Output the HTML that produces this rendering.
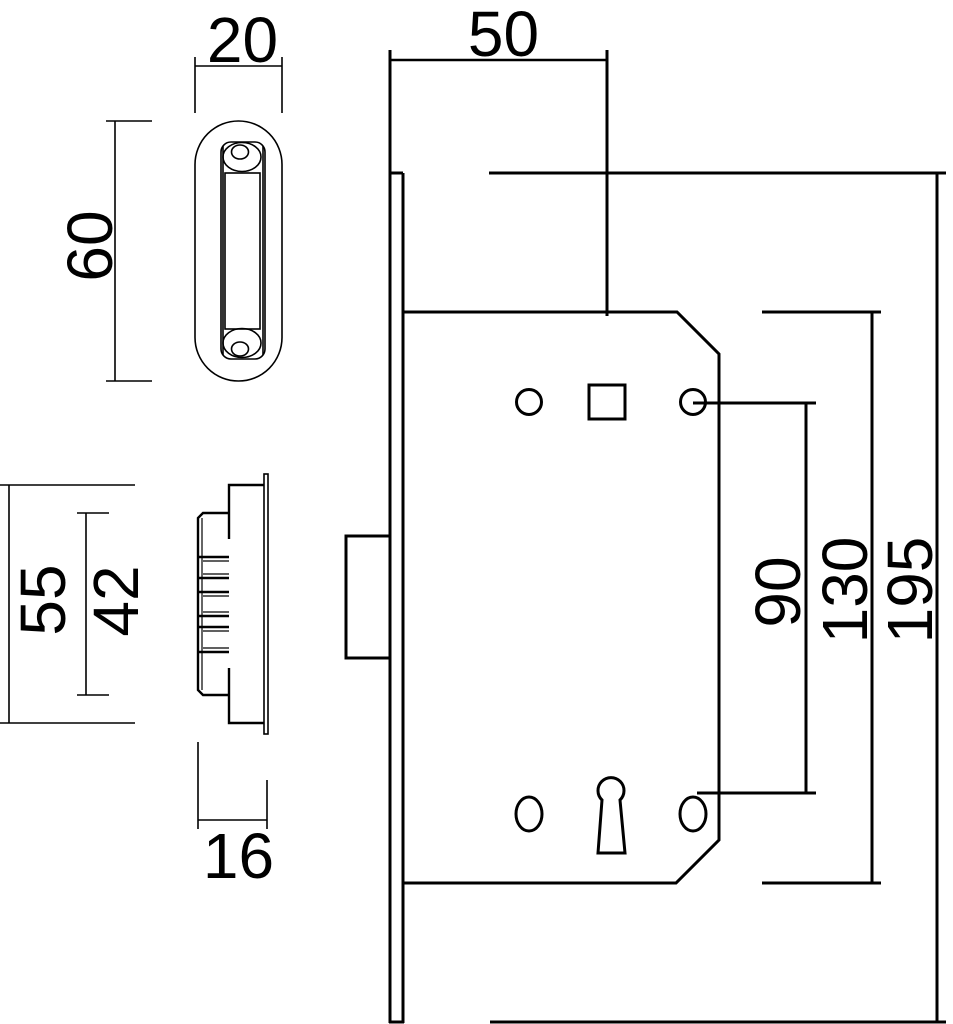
<!DOCTYPE html>
<html>
<head>
<meta charset="utf-8">
<style>
html,body{margin:0;padding:0;background:#fff;}
svg{display:block;}
text{font-family:"Liberation Sans",Arial,sans-serif;font-size:64px;fill:#000;}
</style>
</head>
<body>
<svg width="953" height="1024" viewBox="0 0 953 1024" xmlns="http://www.w3.org/2000/svg">
<rect width="953" height="1024" fill="#fff"/>
<g fill="none" stroke="#000" stroke-linecap="butt" stroke-linejoin="miter">

<!-- ===== Handle (top-left) ===== -->
<g stroke-width="1.6">
  <line x1="195" y1="57" x2="195" y2="113"/>
  <line x1="282" y1="57" x2="282" y2="113"/>
  <line x1="195" y1="66" x2="282" y2="66"/>
  <rect x="195" y="121" width="87" height="260" rx="43.5" ry="43.5"/>
  <rect x="221" y="142" width="44" height="217" rx="10" ry="10"/>
  <rect x="225" y="173" width="35" height="156"/>
  <line x1="223" y1="146" x2="223" y2="355"/>
  <line x1="263" y1="146" x2="263" y2="355"/>
  <ellipse cx="242" cy="157" rx="19" ry="14.5"/>
  <ellipse cx="240" cy="152" rx="8.5" ry="7"/>
  <ellipse cx="242" cy="343" rx="19" ry="14.5"/>
  <ellipse cx="240" cy="349" rx="8.5" ry="7"/>
  <!-- 60 dim -->
  <line x1="115" y1="121" x2="115" y2="381"/>
  <line x1="106" y1="121" x2="152" y2="121"/>
  <line x1="106" y1="381" x2="152" y2="381"/>
  <!-- 55 dim -->
  <line x1="9" y1="485" x2="9" y2="723"/>
  <line x1="0" y1="485" x2="135" y2="485"/>
  <line x1="0" y1="723" x2="135" y2="723"/>
  <!-- 42 dim -->
  <line x1="86" y1="513" x2="86" y2="695"/>
  <line x1="77" y1="513" x2="109" y2="513"/>
  <line x1="77" y1="695" x2="109" y2="695"/>
  <!-- 16 dim -->
  <line x1="198" y1="742" x2="198" y2="829"/>
  <line x1="267" y1="780" x2="267" y2="829"/>
  <line x1="198" y1="820" x2="267" y2="820"/>
</g>

<!-- ===== Strike plate ===== -->
<g stroke-width="2.4">
  <rect x="264" y="474" width="4" height="260" stroke-width="1.6"/>
  <polyline points="264,485 229,485 229,539"/>
  <polyline points="264,723 229,723 229,668"/>
  <polyline points="229,513 203,513 198,518 198,690 203,695 229,695"/>
  <line x1="202" y1="518" x2="202" y2="690" stroke-width="1.2"/>
  <!-- teeth -->
  <line x1="198" y1="557" x2="229" y2="557"/>
  <line x1="198" y1="578" x2="229" y2="578"/>
  <line x1="203" y1="561" x2="229" y2="561" stroke-width="1.2"/>
  <line x1="203" y1="574" x2="229" y2="574" stroke-width="1.2"/>
  <line x1="198" y1="592" x2="229" y2="592"/>
  <line x1="198" y1="616" x2="229" y2="616"/>
  <line x1="203" y1="596" x2="229" y2="596" stroke-width="1.2"/>
  <line x1="203" y1="612" x2="229" y2="612" stroke-width="1.2"/>
  <line x1="198" y1="627" x2="229" y2="627"/>
  <line x1="198" y1="652" x2="229" y2="652"/>
  <line x1="203" y1="631" x2="229" y2="631" stroke-width="1.2"/>
  <line x1="203" y1="648" x2="229" y2="648" stroke-width="1.2"/>
</g>

<!-- ===== Main lock ===== -->
<g stroke-width="3">
  <!-- faceplate -->
  <line x1="390" y1="50" x2="390" y2="1023"/>
  <line x1="403" y1="173" x2="403" y2="1023"/>
  <line x1="390" y1="173" x2="403" y2="173"/>
  <line x1="389" y1="1022" x2="404" y2="1022"/>
  <!-- latch -->
  <polyline points="390,536 346,536 346,658 390,658"/>
  <!-- case -->
  <polyline points="403,312 677,312 719,354 719,840 676,883 403,883"/>
  <!-- 50 dim -->
  <line x1="607" y1="50" x2="607" y2="316"/>
  <line x1="390" y1="60" x2="607" y2="60" stroke-width="2.5"/>
  <!-- 195 dim -->
  <line x1="489" y1="173" x2="946" y2="173"/>
  <line x1="937" y1="173" x2="937" y2="1022"/>
  <line x1="490" y1="1022" x2="946" y2="1022"/>
  <!-- 130 dim -->
  <line x1="762" y1="312" x2="881" y2="312"/>
  <line x1="762" y1="883" x2="881" y2="883"/>
  <line x1="872" y1="312" x2="872" y2="883"/>
  <!-- 90 dim -->
  <line x1="693" y1="403" x2="816" y2="403"/>
  <line x1="697" y1="793" x2="816" y2="793"/>
  <line x1="806" y1="403" x2="806" y2="793"/>
  <!-- holes -->
  <circle cx="529" cy="402" r="12.5"/>
  <circle cx="693" cy="402" r="12.5"/>
  <rect x="589" y="385" width="36" height="34"/>
  <ellipse cx="529" cy="814" rx="13" ry="17"/>
  <ellipse cx="693" cy="814" rx="13" ry="17"/>
  <path d="M602,800 A13,13 0 1 1 620,800 L625,853 L598,853 Z"/>
</g>
</g>

<!-- ===== Labels ===== -->
<text x="242.5" y="62" text-anchor="middle">20</text>
<text x="503.5" y="56" text-anchor="middle">50</text>
<text x="238.5" y="878" text-anchor="middle">16</text>
<text transform="translate(112,246) rotate(-90)" text-anchor="middle">60</text>
<text transform="translate(65,600) rotate(-90)" text-anchor="middle">55</text>
<text transform="translate(138,601) rotate(-90)" text-anchor="middle">42</text>
<text transform="translate(800,592) rotate(-90)" text-anchor="middle">90</text>
<text transform="translate(867,590) rotate(-90)" text-anchor="middle">130</text>
<text transform="translate(932,590) rotate(-90)" text-anchor="middle">195</text>
</svg>
</body>
</html>
